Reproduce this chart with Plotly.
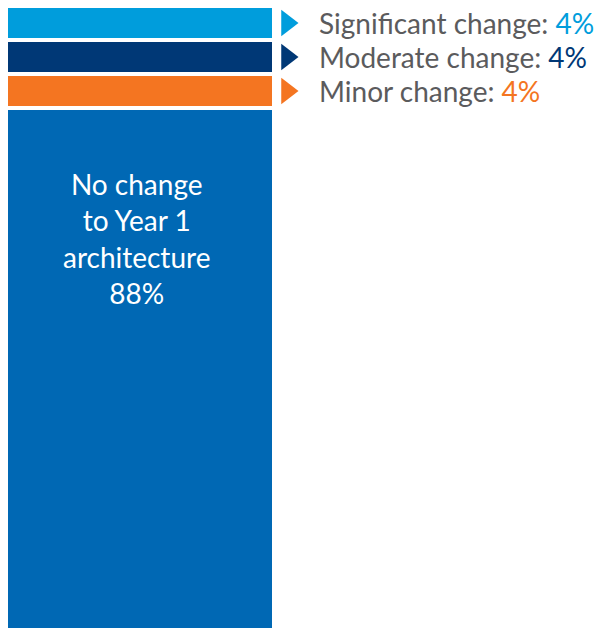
import plotly.graph_objects as go

categories = ["No change to Year 1 architecture", "Minor change", "Moderate change", "Significant change"]
values = [88, 4, 4, 4]
colors = ["#0068B4", "#F47521", "#003876", "#009DDC"]

W, H = 602, 632
fig = go.Figure()

# cumulative bases
bases = []
cum = 0
for v in values:
    bases.append(cum)
    cum += v
centers = [b + v / 2 for b, v in zip(bases, values)]

# big segment on y, small segments on y2 (infographic uses an enlarged scale for the small slices)
for i, (cat, v, c, b) in enumerate(zip(categories, values, colors, bases)):
    fig.add_trace(go.Bar(
        x=[0], y=[v], base=[b], name=cat,
        marker=dict(color=c, line=dict(color="white", width=4)),
        width=1, hoverinfo="skip", showlegend=False,
        yaxis="y" if i == 0 else "y2",
    ))

# triangles
fig.add_trace(go.Scatter(
    x=[0] * 3, y=centers[1:], xaxis="x2", yaxis="y2", mode="markers",
    marker=dict(symbol="triangle-right", size=23, color=colors[1:], line=dict(width=0)),
    hoverinfo="skip", showlegend=False, cliponaxis=False,
))

for lab, v, c, yc in zip(categories[1:], values[1:], colors[1:], centers[1:]):
    fig.add_annotation(
        x=317 / W, xref="paper", y=yc, yref="y2", xanchor="left", yanchor="middle",
        text=f"{lab}: <span style='color:{c}'>{v}%</span>", showarrow=False,
        font=dict(family="Lato", size=28, color="#5b5b5d"),
    )

fig.add_annotation(
    x=0, xref="x", y=values[0] * 0.75, yref="y", xanchor="center", yanchor="middle",
    xshift=-4,
    text=f"No change<br>to Year 1<br>architecture<br>{values[0]}%", showarrow=False,
    font=dict(family="Lato", size=28, color="white"), align="center",
)

split = (H - 108) / H
fig.update_layout(
    width=W, height=H, margin=dict(l=0, r=0, t=0, b=0),
    barmode="overlay", plot_bgcolor="rgba(0,0,0,0)", paper_bgcolor="white",
    xaxis=dict(domain=[6 / W, 274 / W], range=[-0.5, 0.5], visible=False),
    xaxis2=dict(domain=[282 / W, 292 / W], range=[-0.5, 0.5], visible=False, anchor="y2"),
    yaxis=dict(domain=[0, split], range=[-0.34, values[0]], visible=False),
    yaxis2=dict(domain=[split, (H - 6) / H], range=[values[0], sum(values)], visible=False, anchor="x"),
)
fig.write_html("out.html")
